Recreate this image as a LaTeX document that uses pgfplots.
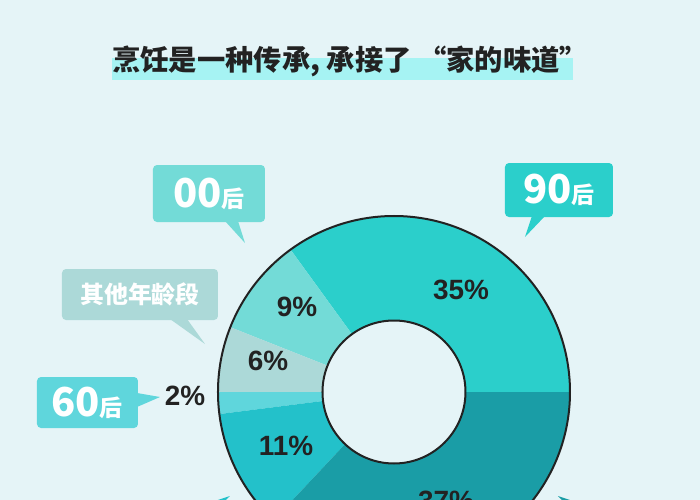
\documentclass[border=0pt]{standalone}
\usepackage{pgfplots}
\usepackage{pgfplotstable}
\pgfplotsset{compat=1.18}
\usepackage{fontspec}
\setmainfont{Liberation Sans}
\newfontfamily\cjk{Noto Sans CJK SC}

\definecolor{bg}{HTML}{E5F4F7}
\definecolor{hl}{HTML}{A6F3F3}
\definecolor{ink}{HTML}{222222}
% slice colours, in table order
\definecolor{c0}{HTML}{2BCFCB}
\definecolor{c1}{HTML}{73DBD7}
\definecolor{c2}{HTML}{ACD9D8}
\definecolor{c3}{HTML}{5FD6DC}
\definecolor{c4}{HTML}{23C1CA}
\definecolor{c5}{HTML}{1A9DA6}

% share of each age group, counter-clockwise from 3 o'clock
\pgfplotstableread{
group share
90后 35
00后 9
其他 6
60后 2
70后 11
80后 37
}\shares

\begin{document}
\begin{tikzpicture}
\useasboundingbox (0,0) rectangle (350bp,250bp);
\clip (0,0) rectangle (350bp,250bp);
\fill[bg] (0,0) rectangle (350bp,250bp);

% cumulative angles
\def\acc{0}
\pgfplotsforeachungrouped \i in {0,...,5}{%
  \pgfplotstablegetelem{\i}{share}\of\shares
  \pgfmathsetmacro\a{\acc*3.6}%
  \pgfmathsetmacro\acc{\acc+\pgfplotsretval}%
  \pgfmathsetmacro\b{\acc*3.6}%
  \expandafter\xdef\csname sa\i\endcsname{\a}%
  \expandafter\xdef\csname sb\i\endcsname{\b}%
}

\begin{axis}[
  scale only axis,
  width=350bp, height=250bp,
  xmin=0, xmax=700, ymin=0, ymax=500,
  enlargelimits=false,
  hide axis,
  clip=false,
]
% title
\fill[hl] (axis cs:112,420) rectangle (axis cs:573,442);
\node[anchor=west, inner sep=0pt, text=ink, font=\cjk\bfseries\fontsize{14.2}{15}\selectfont]
  at (axis cs:112,439) {烹饪是一种传承, 承接了 “家的味道”};

% donut
\pgfplotsinvokeforeach{0,...,5}{
  \edef\temp{\noexpand\fill[c#1] (axis cs:394,108) -- ++(\csname sa#1\endcsname:88bp)
    arc[start angle=\csname sa#1\endcsname, end angle=\csname sb#1\endcsname, radius=88bp] -- cycle;}
  \temp
}
\draw[ink, line width=1bp] (axis cs:394,108) circle[radius=88bp];
\draw[ink, line width=1bp, fill=bg] (axis cs:394,108) circle[radius=35.75bp];

% percentages
\tikzset{pct/.style={inner sep=0pt, text=ink, font=\bfseries\fontsize{14}{14}\selectfont}}
\node[pct] at (axis cs:461,210) {35\%};
\node[pct] at (axis cs:297,193) {9\%};
\node[pct] at (axis cs:268,139) {6\%};
\node[pct] at (axis cs:185,104) {2\%};
\node[pct] at (axis cs:286,54) {11\%};
\node[pct] at (axis cs:446,-1) {37\%};

% callouts
\tikzset{tag/.style={inner sep=0pt, text=white, font=\cjk\bfseries}}
\fill[c1, rounded corners=2bp] (axis cs:153,278) rectangle (axis cs:265,335);
\fill[c1] (axis cs:225,279) -- (axis cs:245,257) -- (axis cs:238,279) -- cycle;
\node[tag] at (axis cs:209,306) {\fontsize{20}{20}\selectfont 00\fontsize{11.5}{11.5}\selectfont 后};

\fill[c0, rounded corners=2bp] (axis cs:505,283) rectangle (axis cs:613,337);
\fill[c0] (axis cs:532,284) -- (axis cs:525,263) -- (axis cs:545,284) -- cycle;
\node[tag] at (axis cs:559,310) {\fontsize{20}{20}\selectfont 90\fontsize{11.5}{11.5}\selectfont 后};

\fill[c2, rounded corners=2bp] (axis cs:62,180) rectangle (axis cs:218,231);
\fill[c2] (axis cs:170,181) -- (axis cs:205,156) -- (axis cs:187,181) -- cycle;
\node[tag] at (axis cs:140,206) {\fontsize{12}{12}\selectfont 其他年龄段};

\fill[c3, rounded corners=2bp] (axis cs:37,72) rectangle (axis cs:138,123);
\fill[c3] (axis cs:137,93) -- (axis cs:160,103) -- (axis cs:137,107) -- cycle;
\node[tag] at (axis cs:87,97) {\fontsize{20}{20}\selectfont 60\fontsize{11.5}{11.5}\selectfont 后};

% tails of the cropped callouts below
\fill[c4] (axis cs:212,-2) -- (axis cs:230,4) -- (axis cs:224,-2) -- cycle;
\fill[c5] (axis cs:564,-2) -- (axis cs:558,4) -- (axis cs:576,-2) -- cycle;
\end{axis}
\end{tikzpicture}
\end{document}
